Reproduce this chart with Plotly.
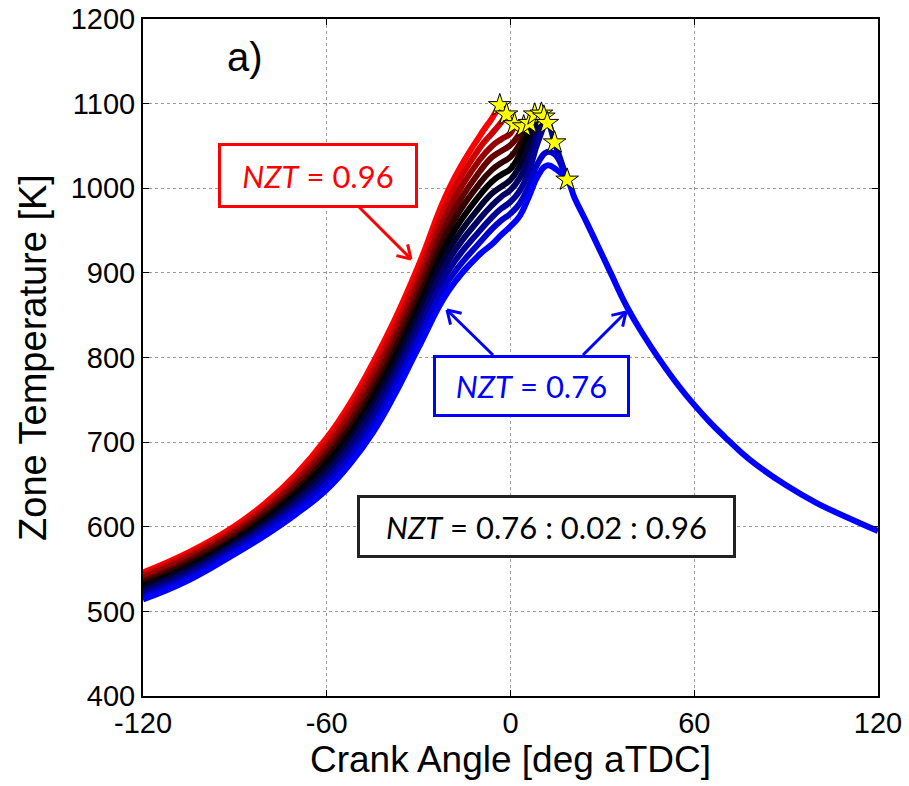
import math
import plotly.graph_objects as go

# ---------------- data ----------------
nzt = [0.76, 0.78, 0.80, 0.82, 0.84, 0.86, 0.88, 0.90, 0.92, 0.94, 0.96]

theta_comp = [-120, -105, -90, -80, -70, -60, -52, -45, -38, -30, -20, -10]

temp_comp_076 = [514, 537, 568, 590, 615, 644, 676, 711, 755, 812, 880, 922]
temp_comp_078 = [517, 540, 571, 594, 620, 650, 683, 719, 764, 822, 892, 936]
temp_comp_080 = [520, 543, 575, 598, 624, 656, 690, 727, 773, 831, 904, 950]
temp_comp_082 = [524, 547, 578, 601, 629, 662, 698, 736, 781, 841, 916, 964]
temp_comp_084 = [527, 550, 581, 605, 634, 668, 705, 744, 790, 851, 928, 978]
temp_comp_086 = [530, 553, 584, 609, 639, 675, 712, 752, 799, 860, 940, 992]
temp_comp_088 = [533, 557, 587, 613, 643, 681, 719, 760, 808, 870, 952, 1006]
temp_comp_090 = [536, 560, 591, 617, 648, 687, 726, 768, 817, 880, 964, 1020]
temp_comp_092 = [540, 564, 594, 620, 653, 693, 734, 777, 825, 890, 976, 1034]
temp_comp_094 = [543, 567, 597, 624, 657, 699, 741, 785, 834, 899, 988, 1048]
temp_comp_096 = [546, 570, 601, 628, 662, 705, 748, 793, 843, 909, 1000, 1062]

theta_top_076 = [-6, -3, 0, 3, 6, 9, 12, 15, 18.5, 21, 24, 27.2, 32.7, 38, 43, 48.4,
                 55, 60, 65, 70, 75, 80, 90, 100, 110, 120]
temp_top_076 = [934, 945, 955, 967, 990, 1015, 1027, 1022, 1010, 988, 966, 942, 900, 860, 829, 799,
                766, 744, 724, 706, 689, 674, 649, 628, 611, 595]
theta_top_078 = [-6, -3, 0, 3, 6, 9, 12, 14.5, 17, 18.5]
temp_top_078 = [952, 962, 970, 982, 1003, 1030, 1043, 1040, 1024, 1010]
theta_top_080 = [-6, -3, 0, 3, 6, 9, 12, 14.4, 18.5]
temp_top_080 = [966, 976, 984, 997, 1020, 1055, 1077, 1054, 1010]
theta_top_082 = [-6, -3, 0, 3, 6, 9, 10.9]
temp_top_082 = [980, 990, 998, 1012, 1035, 1068, 1084.5]
theta_top_084 = [-6, -3, 0, 3, 6, 8.5, 10.1]
temp_top_084 = [994, 1002, 1010, 1026, 1050, 1075, 1088]
theta_top_086 = [-6, -3, 0, 3, 6, 7.9]
temp_top_086 = [1008, 1016, 1023, 1040, 1068, 1087]
theta_top_088 = [-6, -3, 0, 3, 6.2]
temp_top_088 = [1022, 1030, 1037, 1052, 1077]
theta_top_090 = [-6, -3, 0, 2.5, 4.3]
temp_top_090 = [1037, 1044, 1051, 1062, 1073]
theta_top_092 = [-6, -3, 0, 1.3]
temp_top_092 = [1050, 1058, 1065, 1075.5]
theta_top_094 = [-6, -3, -1.3]
temp_top_094 = [1065, 1078, 1087]
theta_top_096 = [-6, -3.5]
temp_top_096 = [1083, 1098]

star_theta = [-3.5, -1.3, 1.3, 4.3, 6.2, 7.9, 10.1, 10.9, 12.0, 14.4, 18.5]
star_temp = [1098, 1087, 1075.5, 1073, 1077, 1087, 1088, 1084.5, 1077, 1054, 1010]

x_ticks = [-120, -60, 0, 60, 120]
y_ticks = [400, 500, 600, 700, 800, 900, 1000, 1100, 1200]

comp_list = [temp_comp_076, temp_comp_078, temp_comp_080, temp_comp_082, temp_comp_084,
             temp_comp_086, temp_comp_088, temp_comp_090, temp_comp_092, temp_comp_094,
             temp_comp_096]
top_theta_list = [theta_top_076, theta_top_078, theta_top_080, theta_top_082, theta_top_084,
                  theta_top_086, theta_top_088, theta_top_090, theta_top_092, theta_top_094,
                  theta_top_096]
top_temp_list = [temp_top_076, temp_top_078, temp_top_080, temp_top_082, temp_top_084,
                 temp_top_086, temp_top_088, temp_top_090, temp_top_092, temp_top_094,
                 temp_top_096]

# ---------------- layout geometry ----------------
W, H = 909, 786
ML, MR, MT, MB = 143, 31, 19, 90
XR = [-120, 120]
YR = [400, 1200]
pw = W - ML - MR
ph = H - MT - MB


def px2x(p):
    return XR[0] + (p - ML) / pw * (XR[1] - XR[0])


def py2y(p):
    return YR[1] - (p - MT) / ph * (YR[1] - YR[0])


def color_for(k):
    # k=0 -> blue, k=5 -> black, k=10 -> red
    if k <= 5:
        return "rgb(0,0,%d)" % round(255 * (1 - k / 5))
    return "rgb(%d,0,0)" % round(255 * (k - 5) / 5)


fig = go.Figure()

n = len(nzt)
for k in reversed(range(n)):
    xs = theta_comp + top_theta_list[k]
    ys = comp_list[k] + top_temp_list[k]
    fig.add_trace(go.Scatter(
        x=xs, y=ys, mode="lines",
        line=dict(color=color_for(k), width=6, shape="spline", smoothing=1.3),
        name="NZT=%.2f" % nzt[k], hoverinfo="skip"))

fig.add_trace(go.Scatter(
    x=star_theta, y=star_temp, mode="markers",
    marker=dict(symbol="star", size=17, color="#ffff00",
                line=dict(color="black", width=1)),
    hoverinfo="skip"))

# ---------------- arrows (open V heads) ----------------
shapes = []


def arrow(tail_px, tip_px, color, width=3, head=15, ang=32):
    tx, ty = tail_px
    hx, hy = tip_px
    shapes.append(dict(type="line", xref="x", yref="y",
                       x0=px2x(tx), y0=py2y(ty), x1=px2x(hx), y1=py2y(hy),
                       line=dict(color=color, width=width)))
    d = math.atan2(ty - hy, tx - hx)
    for s in (-1, 1):
        a = d + s * math.radians(ang)
        ex, ey = hx + head * math.cos(a), hy + head * math.sin(a)
        shapes.append(dict(type="line", xref="x", yref="y",
                           x0=px2x(hx), y0=py2y(hy), x1=px2x(ex), y1=py2y(ey),
                           line=dict(color=color, width=width)))


RED = "#ff0000"
BLUE = "#0000ff"
arrow((358, 206), (411, 259), RED)
arrow((493, 355), (447, 310), BLUE)
arrow((583, 355), (626, 312), BLUE)

BOXFONT = "Lato, Open Sans, sans-serif"
annotations = [
    dict(x=px2x(318), y=py2y(175.5), xref="x", yref="y", showarrow=False,
         text="<i>NZT</i> = 0.96", font=dict(family=BOXFONT, size=31, color=RED),
         width=194, height=59, bordercolor=RED, borderwidth=3, borderpad=0,
         bgcolor="white", xanchor="center", yanchor="middle"),
    dict(x=px2x(531.5), y=py2y(386), xref="x", yref="y", showarrow=False,
         text="<i>NZT</i> = 0.76", font=dict(family=BOXFONT, size=31, color=BLUE),
         width=191, height=56, bordercolor=BLUE, borderwidth=3, borderpad=0,
         bgcolor="white", xanchor="center", yanchor="middle"),
    dict(x=px2x(546.5), y=py2y(526.5), xref="x", yref="y", showarrow=False,
         text="<i>NZT</i> = 0.76 : 0.02 : 0.96",
         font=dict(family=BOXFONT, size=31, color="black"),
         width=373, height=57, bordercolor="#222222", borderwidth=3, borderpad=0,
         bgcolor="white", xanchor="center", yanchor="middle"),
    dict(x=px2x(245), y=py2y(57), xref="x", yref="y", showarrow=False,
         text="a)", font=dict(family="Liberation Sans, Arial", size=40, color="black"),
         xanchor="center", yanchor="middle"),
]

axis_common = dict(
    showgrid=True, gridcolor="#9a9a9a", gridwidth=1, griddash="dot",
    showline=True, linecolor="black", linewidth=2, mirror="ticks",
    ticks="inside", ticklen=6, tickcolor="black", tickwidth=1,
    zeroline=False, tickfont=dict(family="Liberation Sans, Arial", size=29, color="black"),
)

fig.update_layout(
    width=W, height=H,
    margin=dict(l=ML, r=MR, t=MT, b=MB, autoexpand=False),
    plot_bgcolor="white", paper_bgcolor="white",
    showlegend=False,
    font=dict(family="Liberation Sans, Arial", color="black"),
    xaxis=dict(range=XR, tickmode="array", tickvals=x_ticks,
               ticktext=[str(v) for v in x_ticks],
               title=dict(text="Crank Angle [deg aTDC]",
                          font=dict(family="Liberation Sans, Arial", size=37),
                          standoff=1),
               **axis_common),
    yaxis=dict(range=YR, tickmode="array", tickvals=y_ticks,
               ticktext=[str(v) for v in y_ticks],
               title=dict(text="Zone Temperature [K]",
                          font=dict(family="Liberation Sans, Arial", size=38),
                          standoff=12),
               **axis_common),
    shapes=shapes,
    annotations=annotations,
)

fig.write_html("out.html")
